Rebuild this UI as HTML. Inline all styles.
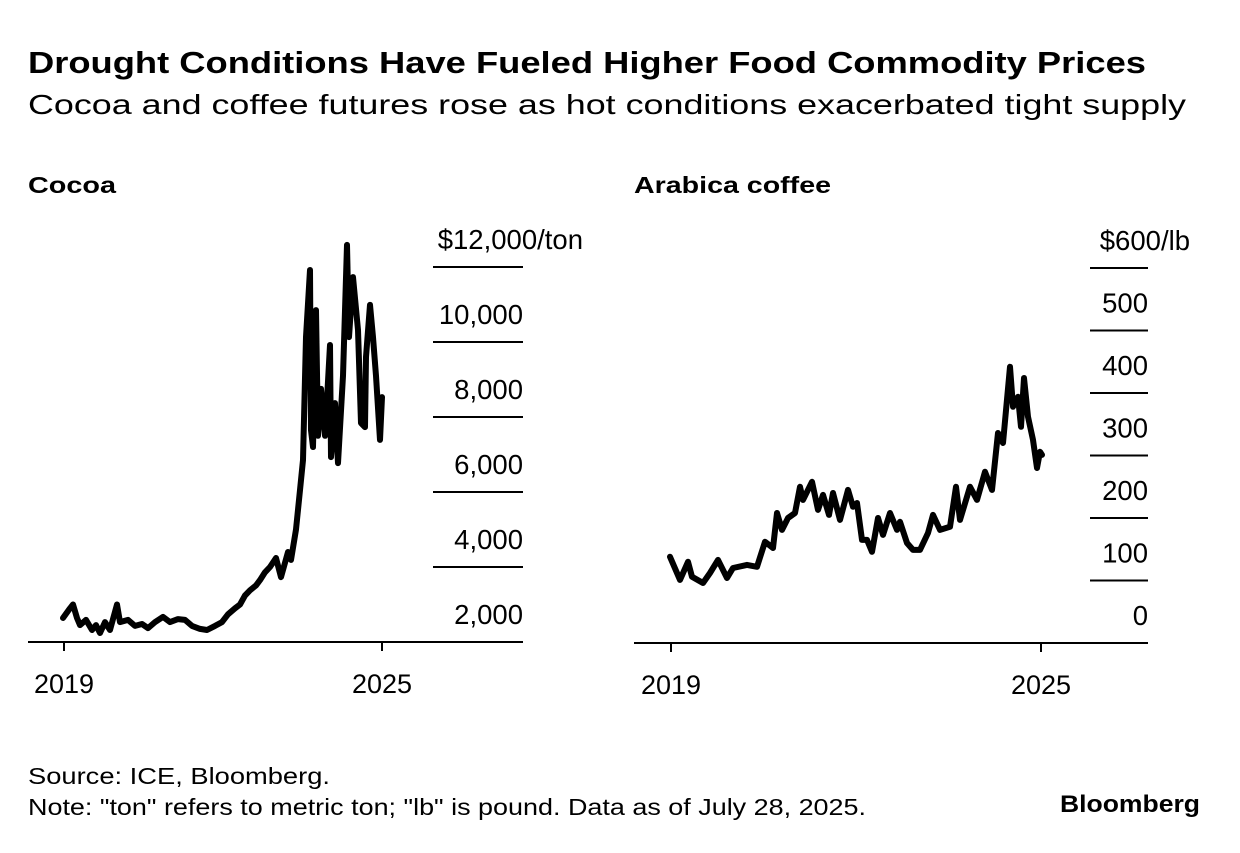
<!DOCTYPE html>
<html><head><meta charset="utf-8"><style>
body{margin:0;background:#fff}
svg text{font-family:"Liberation Sans",Arial,sans-serif;fill:#000}
</style></head><body>
<svg id="c" width="1240" height="848" viewBox="0 0 1240 848" xmlns="http://www.w3.org/2000/svg">
<rect width="1240" height="848" fill="#fff"/>
<text x="28" y="73" font-size="31" font-weight="bold" textLength="1118" lengthAdjust="spacingAndGlyphs">Drought Conditions Have Fueled Higher Food Commodity Prices</text>
<text x="28" y="114" font-size="28" textLength="1158" lengthAdjust="spacingAndGlyphs">Cocoa and coffee futures rose as hot conditions exacerbated tight supply</text>
<text x="28" y="193" font-size="23" font-weight="bold" textLength="88" lengthAdjust="spacingAndGlyphs">Cocoa</text>
<text x="634" y="193" font-size="23" font-weight="bold" textLength="197" lengthAdjust="spacingAndGlyphs">Arabica coffee</text>
<g id="cocoa"></g>
<g id="coffee"></g>
<text x="28" y="784" font-size="23" textLength="302" lengthAdjust="spacingAndGlyphs">Source: ICE, Bloomberg.</text>
<text x="28" y="815" font-size="23" textLength="838" lengthAdjust="spacingAndGlyphs">Note: "ton" refers to metric ton; "lb" is pound. Data as of July 28, 2025.</text>
<text x="1060" y="812" font-size="24" font-weight="bold" textLength="140" lengthAdjust="spacingAndGlyphs">Bloomberg</text>
</svg>
<script>
const cocoaX=[63,70,73,77,80,86,92,96,100,105,110,117,120,128,135,142,148,155,163,170,178,185,192,200,207,215,222,228,235,240,245,250,256,260,265,270,276,281,288,291,296,300,303,306,310,311,313,316,318,321,325,330,331,335,338,343,347,349,353,358,361,365,366,370,373,376,380,382];
const cocoaV=[2640,2900,3000,2640,2450,2590,2320,2450,2240,2530,2320,3000,2530,2590,2430,2480,2370,2530,2670,2530,2610,2590,2430,2350,2320,2430,2530,2740,2900,3000,3240,3380,3510,3650,3860,4000,4240,3730,4400,4190,5000,6050,6850,10130,11920,7650,7200,10850,7500,8750,7500,9920,6930,8370,6770,9100,12590,10130,11730,10320,7840,7730,9600,10990,10130,9100,7390,8530];
const cocoaTicks=[2000,4000,6000,8000,10000,12000];
const cocoaTickLabels=["2,000","4,000","6,000","8,000","10,000","$12,000/ton"];
const coffeeX=[670,680,688,692,703,710,718,727,733,747,757,765,773,777,782,788,795,800,803,812,818,823,829,833,840,848,853,857,862,867,872,878,883,890,897,900,907,913,920,928,933,940,950,956,960,970,977,985,992,998,1003,1010,1013,1018,1021,1024,1028,1033,1037,1040,1042];
const coffeeV=[138,101,130,106,96,112,133,104,120,125,122,162,152,208,181,200,208,250,229,258,213,237,205,240,197,245,218,224,165,165,146,200,173,208,181,194,160,149,149,176,205,181,186,250,197,250,229,274,245,336,320,442,378,394,346,424,362,325,280,306,301];
const coffeeTicks=[0,100,200,300,400,500,600];
const coffeeTickLabels=["0","100","200","300","400","500","$600/lb"];
const NS="http://www.w3.org/2000/svg";
function mk(p,tag,at,txt){const e=document.createElementNS(NS,tag);for(const k in at)e.setAttribute(k,at[k]);if(txt!==undefined)e.textContent=txt;p.appendChild(e);return e;}
function panel(g,o){
  const y=v=>o.base-(v-o.min)*o.ppu;
  const n=o.ticks.length;
  o.ticks.forEach((t,i)=>{
    if(i>0){const l=mk(g,'line',{x1:o.gx1,x2:o.gx2,y1:y(t),y2:y(t),stroke:'#000','stroke-width':2});
    
    }
    const xr=(i===n-1)?o.topRight:o.gx2;
    const tx=mk(g,'text',{x:xr,y:y(t)-18,'font-size':27.5,'text-anchor':'end'},o.labels[i]);
    
    
  });
  const b=mk(g,'line',{x1:o.bx1,x2:o.gx2,y1:o.base,y2:o.base,stroke:'#000','stroke-width':2});
  
  
  o.years.forEach(([xx,lab])=>{
    const t=mk(g,'line',{x1:xx,x2:xx,y1:o.base,y2:o.base+9,stroke:'#000','stroke-width':2});
    
    
    const tl=mk(g,'text',{x:xx,y:o.base+51,'font-size':27,'text-anchor':'middle'},lab);
    
    
  });
  const d=o.xs.map((x,i)=>(i?'L':'M')+x+','+y(o.vs[i]).toFixed(1)).join('');
  const p=mk(g,'path',{d:d,fill:'none',stroke:'#000','stroke-width':6,'stroke-linejoin':'round','stroke-linecap':'round'});
  
  
}
panel(document.getElementById('cocoa'),{base:642,min:2000,ppu:75/2000,gx1:433,gx2:523,topRight:583,bx1:28,ticks:cocoaTicks,labels:cocoaTickLabels,years:[[64,'2019'],[382,'2025']],xs:cocoaX,vs:cocoaV,name:'cocoa-price-line'});
panel(document.getElementById('coffee'),{base:643,min:0,ppu:0.625,gx1:1090,gx2:1148,topRight:1190,bx1:634,ticks:coffeeTicks,labels:coffeeTickLabels,years:[[671,'2019'],[1041,'2025']],xs:coffeeX,vs:coffeeV,name:'coffee-price-line'});
</script>
</body></html>
